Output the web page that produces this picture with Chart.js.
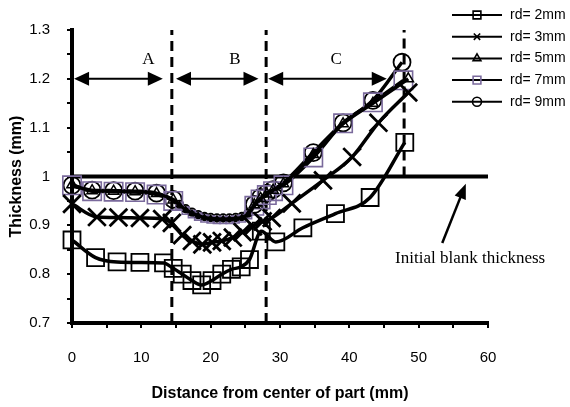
<!DOCTYPE html>
<html>
<head>
<meta charset="utf-8">
<script src="https://cdn.jsdelivr.net/npm/chart.js@4/dist/chart.umd.min.js"></script>
<style>
  html, body { margin: 0; padding: 0; background: #fff; }
  #wrap { width: 570px; height: 407px; }
</style>
</head>
<body>
<div id="wrap"><canvas id="chart" width="570" height="407"></canvas></div>
<script>
// Thickness (mm) along the distance from center of part (mm)
const rd2X = [0, 3.4, 6.5, 9.8, 13.2, 14.6, 15.9, 17.3, 18.7, 20.2, 21.6, 23.0, 24.4, 25.6, 27.3, 29.4, 33.3, 38.0, 43.0, 48.0];
const rd2Y = [0.870, 0.834, 0.825, 0.824, 0.823, 0.812, 0.800, 0.787, 0.778, 0.787, 0.800, 0.810, 0.815, 0.830, 0.888, 0.866, 0.895, 0.924, 0.957, 1.070];

const rd3X = [0, 3.6, 6.7, 9.8, 13.0, 14.4, 15.9, 17.3, 18.8, 20.2, 21.6, 23.2, 24.6, 26.1, 27.5, 28.8, 31.7, 36.2, 40.4, 44.2, 48.5];
const rd3Y = [0.944, 0.917, 0.916, 0.915, 0.913, 0.905, 0.880, 0.868, 0.861, 0.865, 0.868, 0.875, 0.886, 0.898, 0.908, 0.915, 0.945, 0.992, 1.040, 1.110, 1.172];

const rdBigX = [0, 2.9, 6.0, 9.1, 12.2, 14.6, 15.5, 16.4, 17.3, 18.2, 19.1, 20.0, 20.9, 21.8, 22.7, 23.6, 24.5, 25.4, 26.3, 27.2, 28.1, 29.0, 30.5, 34.8, 39.1, 43.4];
const rd5X = rdBigX.concat([48.5]);
const rd5Y = [0.983, 0.971, 0.970, 0.969, 0.965, 0.952, 0.942, 0.932, 0.925, 0.920, 0.916, 0.914, 0.913, 0.913, 0.913, 0.914, 0.916, 0.923, 0.942, 0.955, 0.964, 0.972, 0.985, 1.045, 1.108, 1.150, 1.200];
const rd7X = rdBigX.concat([47.8]);
const rd7Y = [0.982, 0.970, 0.969, 0.968, 0.963, 0.950, 0.940, 0.930, 0.923, 0.918, 0.914, 0.912, 0.911, 0.911, 0.911, 0.912, 0.914, 0.921, 0.940, 0.953, 0.962, 0.970, 0.982, 1.039, 1.109, 1.152, 1.197];
const rd9X = rdBigX.concat([47.6]);
const rd9Y = [0.982, 0.972, 0.971, 0.970, 0.966, 0.953, 0.943, 0.934, 0.927, 0.922, 0.918, 0.916, 0.915, 0.915, 0.915, 0.916, 0.918, 0.925, 0.943, 0.957, 0.966, 0.973, 0.987, 1.049, 1.110, 1.156, 1.234];

const seriesLabels = ['rd= 2mm', 'rd= 3mm', 'rd= 5mm', 'rd= 7mm', 'rd= 9mm'];

// reference lines: initial blank thickness and zone borders
const blankX = [0, 60];
const blankY = [1, 1];
const zoneX = [14.4, 28, 47.9];
const zoneBottom = [0.7, 0.7, 1.0];
const zoneTop = 1.3;
const zoneNames = ['A', 'B', 'C'];
const zoneLabelX = [11, 23.5, 38.1];
const zoneLabelY = 1.24;
const zoneArrowY = 1.2;
const zoneArrowFrom = [0.3, 15.0, 28.3];
const zoneArrowTo = [13.1, 26.9, 45.4];
const noteText = 'Initial blank thickness';
const noteX = 46.6, noteY = 0.832;
const noteArrow = [53.4, 0.864, 56.8, 0.985];

const purple = '#7a6a9c';

function pts(xs, ys) {
  return xs.map((x, i) => ({ x: x, y: ys[i] }));
}
// markers in the middle zone are drawn smaller
function sized(big, small) {
  return c => (c.raw && c.raw.x > 15 && c.raw.x < 26) ? small : big;
}

function series(label, xs, ys, style, color, radius, width) {
  return {
    label: label,
    data: pts(xs, ys),
    borderColor: '#000',
    borderWidth: 3.5,
    pointStyle: style,
    pointRadius: radius,
    pointBorderColor: color,
    pointBackgroundColor: 'rgba(0,0,0,0)',
    pointBorderWidth: width,
    cubicInterpolationMode: 'monotone',
    tension: 0.4,
    clip: false
  };
}

const datasets = [
  series(seriesLabels[0], rd2X, rd2Y, 'rect', '#000', 12, 1.8),
  series(seriesLabels[1], rd3X, rd3Y, 'crossRot', '#000', 12.5, 2.8),
  series(seriesLabels[2], rd5X, rd5Y, 'triangle', '#000', sized(6, 3), 1.5),
  series(seriesLabels[3], rd7X, rd7Y, 'rect', purple, sized(13, 5), 1.6),
  series(seriesLabels[4], rd9X, rd9Y, 'circle', '#000', sized(8.5, 3.8), 1.8),
  {
    label: 'blank',
    data: pts(blankX, blankY),
    borderColor: '#000', borderWidth: 4, pointRadius: 0, clip: false
  }
];
zoneX.forEach((x, i) => {
  datasets.push({
    label: 'zone' + i,
    data: [{ x: x, y: zoneBottom[i] }, { x: x, y: zoneTop }],
    borderColor: '#000', borderWidth: 3, borderDash: [10, 6],
    pointRadius: 0, clip: false
  });
});

function arrowHead(ctx, x, y, dx, dy, len, half) {
  const l = Math.hypot(dx, dy);
  const ux = dx / l, uy = dy / l;
  ctx.beginPath();
  ctx.moveTo(x, y);
  ctx.lineTo(x - ux * len - uy * half, y - uy * len + ux * half);
  ctx.lineTo(x - ux * len + uy * half, y - uy * len - ux * half);
  ctx.closePath();
  ctx.fill();
}

const annotations = {
  id: 'annotations',
  afterDatasetsDraw(chart) {
    const { ctx, scales: { x, y } } = chart;
    ctx.save();
    ctx.fillStyle = '#000';
    ctx.strokeStyle = '#000';
    ctx.lineWidth = 2;
    ctx.font = '17px "Liberation Serif"';
    ctx.textAlign = 'center';
    ctx.textBaseline = 'middle';
    zoneNames.forEach((n, i) => {
      ctx.fillText(n, x.getPixelForValue(zoneLabelX[i]), y.getPixelForValue(zoneLabelY));
      const x1 = x.getPixelForValue(zoneArrowFrom[i]);
      const x2 = x.getPixelForValue(zoneArrowTo[i]);
      const yy = y.getPixelForValue(zoneArrowY);
      ctx.beginPath();
      ctx.moveTo(x1 + 8, yy);
      ctx.lineTo(x2 - 8, yy);
      ctx.stroke();
      arrowHead(ctx, x1, yy, -1, 0, 15, 7);
      arrowHead(ctx, x2, yy, 1, 0, 15, 7);
    });
    // note on the blank thickness line
    ctx.font = '17px "Liberation Serif"';
    ctx.textAlign = 'left';
    ctx.fillText(noteText, x.getPixelForValue(noteX), y.getPixelForValue(noteY));
    const ax1 = x.getPixelForValue(noteArrow[0]), ay1 = y.getPixelForValue(noteArrow[1]);
    const ax2 = x.getPixelForValue(noteArrow[2]), ay2 = y.getPixelForValue(noteArrow[3]);
    ctx.lineWidth = 2.5;
    ctx.beginPath();
    ctx.moveTo(ax1, ay1);
    ctx.lineTo(ax1 + (ax2 - ax1) * 0.8, ay1 + (ay2 - ay1) * 0.8);
    ctx.stroke();
    arrowHead(ctx, ax2, ay2, ax2 - ax1, ay2 - ay1, 15, 6);

    // legend
    const lx = chart.width - 118, lw = 50;
    ctx.font = '14px "Liberation Sans"';
    ctx.textBaseline = 'middle';
    const styles = [
      ['rect', '#000'], ['crossRot', '#000'], ['triangle', '#000'], ['rect', purple], ['circle', '#000']
    ];
    seriesLabels.forEach((lab, i) => {
      const ly = 15 + i * 21.7;
      ctx.strokeStyle = '#000';
      ctx.lineWidth = 2;
      ctx.beginPath();
      ctx.moveTo(lx, ly);
      ctx.lineTo(lx + lw, ly);
      ctx.stroke();
      ctx.lineWidth = 1.6;
      ctx.strokeStyle = styles[i][1];
      ctx.fillStyle = 'rgba(0,0,0,0)';
      Chart.helpers.drawPoint(ctx, {
        pointStyle: styles[i][0], radius: styles[i][0] === 'rect' ? 5.5 : 4.5, rotation: 0, borderWidth: 1.6
      }, lx + lw / 2, ly);
      ctx.fillStyle = '#000';
      ctx.fillText(lab, lx + lw + 8, ly);
    });
    ctx.restore();
  }
};

const font = { family: '"Liberation Sans", Arial, sans-serif', size: 15 };

new Chart(document.getElementById('chart'), {
  type: 'line',
  data: { datasets: datasets },
  plugins: [annotations],
  options: {
    responsive: false,
    animation: false,
    devicePixelRatio: 1,
    layout: { padding: { top: 30, right: 82, left: 0, bottom: 0 } },
    plugins: { legend: { display: false }, tooltip: { enabled: false } },
    scales: {
      x: {
        type: 'linear',
        min: 0, max: 60,
        afterFit: s => { s.height = 84; },
        border: { color: '#000', width: 4 },
        grid: { drawOnChartArea: false, color: '#000', lineWidth: 2, tickLength: 5 },
        ticks: {
          stepSize: 5, color: '#000', font: font, padding: 21, maxRotation: 0,
          callback: v => (v % 10 === 0 ? String(v) : '')
        },
        title: {
          display: true, text: 'Distance from center of part (mm)', color: '#000',
          font: { family: font.family, size: 16, weight: 'bold' }, padding: { top: 0, bottom: 4 }
        }
      },
      y: {
        min: 0.7, max: 1.3,
        afterFit: s => { s.width = 72; },
        border: { color: '#000', width: 4 },
        grid: { drawOnChartArea: false, color: '#000', lineWidth: 2, tickLength: 5 },
        ticks: {
          stepSize: 0.05, color: '#000', font: font, padding: 17,
          callback: v => {
            const t = Math.round(v * 100);
            if (t % 10 !== 0) return '';
            return t === 100 ? '1' : (t / 100).toFixed(1);
          }
        },
        title: {
          display: true, text: 'Thickness (mm)', color: '#000',
          font: { family: font.family, size: 16, weight: 'bold' }, padding: { top: 7, bottom: 0 }
        }
      }
    }
  }
});
</script>
</body>
</html>
